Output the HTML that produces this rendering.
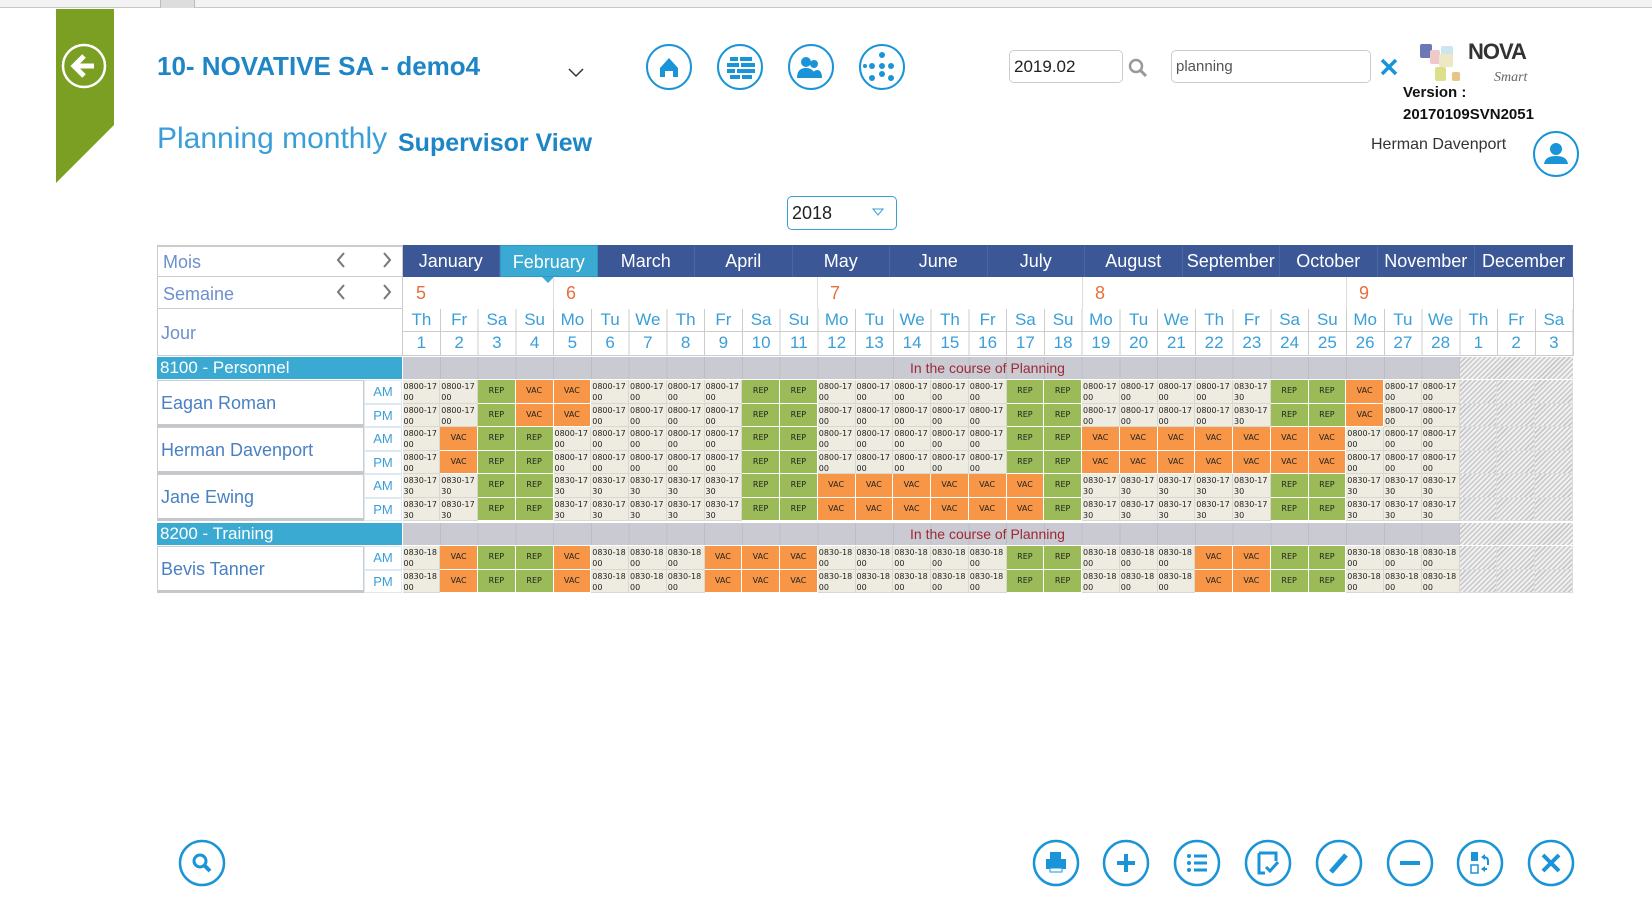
<!DOCTYPE html>
<html><head><meta charset="utf-8"><style>
*{box-sizing:border-box;margin:0;padding:0}
body{width:1652px;height:907px;background:#fff;position:relative;overflow:hidden;font-family:"Liberation Sans",sans-serif}
.a{position:absolute}
.row{position:absolute;left:402.5px;display:flex;height:23.5px}
.row i{font-style:normal;width:37.76px;flex:none;height:100%;border-right:1px solid #fff;border-bottom:1px solid #fff;font-family:"DejaVu Sans",sans-serif;font-size:8px;color:#222}
.t{background:#eeece1;line-height:11px;padding:1px 0 0 1px;white-space:nowrap;overflow:hidden;border-color:#d8d8d0!important}
.r{background:#9bbb59;text-align:center;line-height:22px}
.v{background:#f79646;text-align:center;line-height:22px}
.h{background:repeating-linear-gradient(135deg,#c8c8c8 0 1.5px,#f0f0f0 1.5px 3.5px);border-color:#ddd!important}
.g{position:absolute;left:402.5px;top:357px;width:1058px;height:22px;background:#cacad2;background-image:repeating-linear-gradient(90deg,transparent 0 36.76px,#bdbdc5 36.76px 37.76px)}
.gh{position:absolute;left:1460px;width:113px;height:22px;background:repeating-linear-gradient(135deg,#c8c8c8 0 1.5px,#f0f0f0 1.5px 3.5px)}
.gl{position:absolute;left:157px;width:245px;height:22px;background:#3aaad2;color:#fff;font-size:17px;line-height:22px;padding-left:3px}
.gt{position:absolute;left:905px;width:165px;text-align:center;font-size:14px;color:#9e2a35;line-height:22px}
.nm{position:absolute;left:157px;width:207px;height:47px;border:1px solid #ccc;border-bottom:3px solid #c4c8cc;color:#4a80c4;font-size:18px;line-height:44px;padding-left:3px;background:#fff}
.ap{position:absolute;left:364px;width:38px;height:23.5px;border:1px solid #dde8f0;color:#3a9fd8;font-size:13px;text-align:center;line-height:22px}
.ci{position:absolute;border:2.5px solid #1a94d8;border-radius:50%}
.mo{position:absolute;top:245px;height:32px;width:97.5px;background:#3b5796;color:#fff;font-size:18px;text-align:center;line-height:32px;border-right:1px solid #4a66a4}
.dw{width:37.76px;text-align:center;color:#3a9fd8;font-size:17px}
</style></head><body>
<div class="a" style="left:0;top:0;width:1652px;height:8px;background:#f2f2f2;border-bottom:1px solid #c8c8c8"></div>
<div class="a" style="left:160px;top:0;width:35px;height:8px;background:#ddd;border-left:1px solid #bbb;border-right:1px solid #bbb"></div>
<svg class="a" style="left:56px;top:9px" width="58" height="175"><polygon points="0,0 58,0 58,116 0,174" fill="#7a9f22"/><circle cx="28" cy="57" r="21" fill="none" stroke="#fff" stroke-width="2.5"/><path d="M38 57H20M28 47L18 57L28 67" fill="none" stroke="#fff" stroke-width="5"/></svg>
<div class="a" style="left:157px;top:51px;font-size:26px;font-weight:bold;color:#1e86c6">10- NOVATIVE SA - demo4</div>
<svg class="a" style="left:568px;top:68px" width="16" height="10"><path d="M1 1L8 8L15 1" fill="none" stroke="#333" stroke-width="1.5"/></svg>
<div class="ci" style="left:646px;top:44px;width:46px;height:46px"></div>
<div class="ci" style="left:717px;top:44px;width:46px;height:46px"></div>
<div class="ci" style="left:788px;top:44px;width:46px;height:46px"></div>
<div class="ci" style="left:859px;top:44px;width:46px;height:46px"></div>
<svg class="a" style="left:646px;top:44px" width="260" height="46"><path d="M14 24L23 14L32 24V33H27V27H19V33H14Z" fill="#1a94d8"/>
<g fill="#1a94d8"><rect x="84" y="13" width="8" height="4"/><rect x="94" y="13" width="12" height="4"/><rect x="81" y="19" width="12" height="4"/><rect x="95" y="19" width="14" height="4"/><rect x="81" y="25" width="8" height="4"/><rect x="91" y="25" width="18" height="4"/><rect x="84" y="31" width="10" height="4"/><rect x="96" y="31" width="10" height="4"/></g>
<g fill="#1a94d8"><circle cx="160" cy="18" r="5"/><path d="M151 34Q151 24 160 24Q169 24 169 34Z"/><circle cx="168" cy="20" r="4"/><path d="M165 34Q166 26 172 26Q176 27 176 34Z"/></g>
<g fill="#1a94d8"><circle cx="236" cy="11" r="3"/><circle cx="226" cy="22" r="3"/><circle cx="236" cy="22" r="3"/><circle cx="245" cy="22" r="3"/><circle cx="236" cy="30" r="3"/><circle cx="226" cy="34" r="3"/><circle cx="245" cy="34" r="3"/><circle cx="219" cy="22" r="2"/></g></svg>
<div class="a" style="left:157px;top:122px;font-size:30px;color:#3a9fd8">Planning monthly</div>
<div class="a" style="left:398px;top:129px;font-size:25px;font-weight:bold;color:#1e86c6">Supervisor View</div>
<div class="a" style="left:1009px;top:50px;width:114px;height:33px;border:1px solid #ccc;border-radius:5px;font-size:17px;line-height:31px;padding-left:4px;color:#222">2019.02</div>
<svg class="a" style="left:1128px;top:58px" width="20" height="20"><circle cx="8" cy="8" r="6" fill="none" stroke="#999" stroke-width="2.5"/><path d="M12 12L18 18" stroke="#999" stroke-width="3"/></svg>
<div class="a" style="left:1171px;top:50px;width:200px;height:33px;border:1px solid #ccc;border-radius:5px;font-size:15px;line-height:31px;padding-left:4px;color:#555">planning</div>
<svg class="a" style="left:1380px;top:58px" width="18" height="18"><path d="M2 2L16 16M16 2L2 16" stroke="#1a94d8" stroke-width="3.5"/></svg>
<svg class="a" style="left:1420px;top:42px" width="60" height="50"><rect x="0" y="2" width="12" height="14" rx="2" fill="#6a78b8"/><rect x="10" y="8" width="10" height="14" rx="2" fill="#efc8cc"/><rect x="21" y="4" width="12" height="10" rx="2" fill="#cde6ee"/><rect x="19" y="12" width="14" height="13" rx="2" fill="#eee8c4"/><rect x="15" y="25" width="11" height="14" rx="2" fill="#dce08a"/><rect x="32" y="30" width="8" height="9" rx="2" fill="#e8c488"/></svg>
<div class="a" style="left:1468px;top:39px;font-size:22px;font-weight:bold;color:#333;letter-spacing:-1px">NOVA</div>
<div class="a" style="left:1494px;top:70px;font-size:14px;font-style:italic;color:#666;font-family:'Liberation Serif',serif">Smart</div>
<div class="a" style="left:1403px;top:84px;font-size:15px;font-weight:bold;color:#111">Version :</div>
<div class="a" style="left:1403px;top:106px;font-size:15px;font-weight:bold;color:#111">20170109SVN2051</div>
<div class="a" style="left:1371px;top:136px;font-size:16px;color:#333">Herman Davenport</div>
<div class="ci" style="left:1533px;top:131px;width:46px;height:46px"></div>
<svg class="a" style="left:1533px;top:131px" width="46" height="46"><circle cx="23" cy="18" r="6" fill="#1a94d8"/><path d="M11 33Q12 25 23 25Q34 25 35 33Z" fill="#1a94d8"/></svg>
<div class="a" style="left:787px;top:196px;width:110px;height:34px;border:1.5px solid #3aa0d8;border-radius:5px;font-size:18px;line-height:32px;padding-left:4px;color:#222">2018</div>
<svg class="a" style="left:872px;top:208px" width="12" height="8"><path d="M1 1H11L6 7Z" fill="none" stroke="#3aa0d8"/></svg>
<div class="a" style="left:157px;top:245px;width:246px;height:111px;border:1px solid #ccc;border-top:2px solid #ccc"></div>
<div class="a" style="left:157px;top:276px;width:246px;height:1px;background:#ccc"></div>
<div class="a" style="left:157px;top:308px;width:246px;height:1px;background:#ccc"></div>
<div class="a" style="left:163px;top:252px;font-size:18px;color:#6c8fd0">Mois</div>
<div class="a" style="left:163px;top:284px;font-size:18px;color:#6c8fd0">Semaine</div>
<div class="a" style="left:161px;top:323px;font-size:18px;color:#6c8fd0">Jour</div>
<svg class="a" style="left:334px;top:250px" width="60" height="56"><g fill="none" stroke="#777" stroke-width="2"><path d="M10 3L4 10L10 17M50 3L56 10L50 17M10 35L4 42L10 49M50 35L56 42L50 49"/></g></svg>
<div class="mo" style="left:402.5px">January</div><div class="mo" style="left:500px;background:#3aaad2;border:1px solid #2a98c8">February</div><div class="mo" style="left:597.5px">March</div><div class="mo" style="left:695px">April</div><div class="mo" style="left:792.5px">May</div><div class="mo" style="left:890px">June</div><div class="mo" style="left:987.5px">July</div><div class="mo" style="left:1085px">August</div><div class="mo" style="left:1182.5px">September</div><div class="mo" style="left:1280px">October</div><div class="mo" style="left:1377.5px">November</div><div class="mo" style="left:1475px;width:98px">December</div>
<svg class="a" style="left:542px;top:277px" width="12" height="6"><path d="M0 0H12L6 6Z" fill="#3aaad2"/></svg>
<div class="a" style="left:402.5px;top:277px;width:1171px;height:79px;border-right:1px solid #ccc;border-bottom:1px solid #ccc;background-image:repeating-linear-gradient(90deg,transparent 0 36.76px,#ccc 36.76px 37.76px);background-position:0 32px;background-size:100% 47px;background-repeat:no-repeat"></div>
<div class="a" style="left:402.5px;top:331px;width:1171px;height:1px;background:#ccc"></div>
<div class="a" style="left:553px;top:277px;width:1px;height:32px;background:#ddd"></div>
<div class="a" style="left:817px;top:277px;width:1px;height:32px;background:#ddd"></div>
<div class="a" style="left:1082px;top:277px;width:1px;height:32px;background:#ddd"></div>
<div class="a" style="left:1346px;top:277px;width:1px;height:32px;background:#ddd"></div>
<div class="a" style="top:283px;left:416px;font-size:18px;color:#e8703a">5</div>
<div class="a" style="top:283px;left:566px;font-size:18px;color:#e8703a">6</div>
<div class="a" style="top:283px;left:830px;font-size:18px;color:#e8703a">7</div>
<div class="a" style="top:283px;left:1095px;font-size:18px;color:#e8703a">8</div>
<div class="a" style="top:283px;left:1359px;font-size:18px;color:#e8703a">9</div>
<div class="a" style="left:402.5px;top:310px;display:flex">
<span class="dw">Th</span><span class="dw">Fr</span><span class="dw">Sa</span><span class="dw">Su</span><span class="dw">Mo</span><span class="dw">Tu</span><span class="dw">We</span><span class="dw">Th</span><span class="dw">Fr</span><span class="dw">Sa</span><span class="dw">Su</span><span class="dw">Mo</span><span class="dw">Tu</span><span class="dw">We</span><span class="dw">Th</span><span class="dw">Fr</span><span class="dw">Sa</span><span class="dw">Su</span><span class="dw">Mo</span><span class="dw">Tu</span><span class="dw">We</span><span class="dw">Th</span><span class="dw">Fr</span><span class="dw">Sa</span><span class="dw">Su</span><span class="dw">Mo</span><span class="dw">Tu</span><span class="dw">We</span><span class="dw">Th</span><span class="dw">Fr</span><span class="dw">Sa</span></div>
<div class="a" style="left:402.5px;top:333px;display:flex">
<span class="dw">1</span><span class="dw">2</span><span class="dw">3</span><span class="dw">4</span><span class="dw">5</span><span class="dw">6</span><span class="dw">7</span><span class="dw">8</span><span class="dw">9</span><span class="dw">10</span><span class="dw">11</span><span class="dw">12</span><span class="dw">13</span><span class="dw">14</span><span class="dw">15</span><span class="dw">16</span><span class="dw">17</span><span class="dw">18</span><span class="dw">19</span><span class="dw">20</span><span class="dw">21</span><span class="dw">22</span><span class="dw">23</span><span class="dw">24</span><span class="dw">25</span><span class="dw">26</span><span class="dw">27</span><span class="dw">28</span><span class="dw">1</span><span class="dw">2</span><span class="dw">3</span></div>
<div class="gl" style="top:357px">8100 - Personnel</div>
<div class="g"></div><div class="gh" style="top:357px"></div>
<div class="gt" style="top:357px">In the course of Planning</div>
<div class="nm" style="top:380px">Eagan Roman</div>
<div class="ap" style="top:380px">AM</div><div class="ap" style="top:403.5px">PM</div>
<div class="nm" style="top:427px">Herman Davenport</div>
<div class="ap" style="top:427px">AM</div><div class="ap" style="top:450.5px">PM</div>
<div class="nm" style="top:474px">Jane Ewing</div>
<div class="ap" style="top:474px">AM</div><div class="ap" style="top:497.5px">PM</div>
<div class="row" style="top:380px"><i class=t>0800-17<br>00</i><i class=t>0800-17<br>00</i><i class=r>REP</i><i class=v>VAC</i><i class=v>VAC</i><i class=t>0800-17<br>00</i><i class=t>0800-17<br>00</i><i class=t>0800-17<br>00</i><i class=t>0800-17<br>00</i><i class=r>REP</i><i class=r>REP</i><i class=t>0800-17<br>00</i><i class=t>0800-17<br>00</i><i class=t>0800-17<br>00</i><i class=t>0800-17<br>00</i><i class=t>0800-17<br>00</i><i class=r>REP</i><i class=r>REP</i><i class=t>0800-17<br>00</i><i class=t>0800-17<br>00</i><i class=t>0800-17<br>00</i><i class=t>0800-17<br>00</i><i class=t>0830-17<br>30</i><i class=r>REP</i><i class=r>REP</i><i class=v>VAC</i><i class=t>0800-17<br>00</i><i class=t>0800-17<br>00</i><i class=h></i><i class=h></i><i class=h></i></div>
<div class="row" style="top:403.5px"><i class=t>0800-17<br>00</i><i class=t>0800-17<br>00</i><i class=r>REP</i><i class=v>VAC</i><i class=v>VAC</i><i class=t>0800-17<br>00</i><i class=t>0800-17<br>00</i><i class=t>0800-17<br>00</i><i class=t>0800-17<br>00</i><i class=r>REP</i><i class=r>REP</i><i class=t>0800-17<br>00</i><i class=t>0800-17<br>00</i><i class=t>0800-17<br>00</i><i class=t>0800-17<br>00</i><i class=t>0800-17<br>00</i><i class=r>REP</i><i class=r>REP</i><i class=t>0800-17<br>00</i><i class=t>0800-17<br>00</i><i class=t>0800-17<br>00</i><i class=t>0800-17<br>00</i><i class=t>0830-17<br>30</i><i class=r>REP</i><i class=r>REP</i><i class=v>VAC</i><i class=t>0800-17<br>00</i><i class=t>0800-17<br>00</i><i class=h></i><i class=h></i><i class=h></i></div>
<div class="row" style="top:427px"><i class=t>0800-17<br>00</i><i class=v>VAC</i><i class=r>REP</i><i class=r>REP</i><i class=t>0800-17<br>00</i><i class=t>0800-17<br>00</i><i class=t>0800-17<br>00</i><i class=t>0800-17<br>00</i><i class=t>0800-17<br>00</i><i class=r>REP</i><i class=r>REP</i><i class=t>0800-17<br>00</i><i class=t>0800-17<br>00</i><i class=t>0800-17<br>00</i><i class=t>0800-17<br>00</i><i class=t>0800-17<br>00</i><i class=r>REP</i><i class=r>REP</i><i class=v>VAC</i><i class=v>VAC</i><i class=v>VAC</i><i class=v>VAC</i><i class=v>VAC</i><i class=v>VAC</i><i class=v>VAC</i><i class=t>0800-17<br>00</i><i class=t>0800-17<br>00</i><i class=t>0800-17<br>00</i><i class=h></i><i class=h></i><i class=h></i></div>
<div class="row" style="top:450.5px"><i class=t>0800-17<br>00</i><i class=v>VAC</i><i class=r>REP</i><i class=r>REP</i><i class=t>0800-17<br>00</i><i class=t>0800-17<br>00</i><i class=t>0800-17<br>00</i><i class=t>0800-17<br>00</i><i class=t>0800-17<br>00</i><i class=r>REP</i><i class=r>REP</i><i class=t>0800-17<br>00</i><i class=t>0800-17<br>00</i><i class=t>0800-17<br>00</i><i class=t>0800-17<br>00</i><i class=t>0800-17<br>00</i><i class=r>REP</i><i class=r>REP</i><i class=v>VAC</i><i class=v>VAC</i><i class=v>VAC</i><i class=v>VAC</i><i class=v>VAC</i><i class=v>VAC</i><i class=v>VAC</i><i class=t>0800-17<br>00</i><i class=t>0800-17<br>00</i><i class=t>0800-17<br>00</i><i class=h></i><i class=h></i><i class=h></i></div>
<div class="row" style="top:474px"><i class=t>0830-17<br>30</i><i class=t>0830-17<br>30</i><i class=r>REP</i><i class=r>REP</i><i class=t>0830-17<br>30</i><i class=t>0830-17<br>30</i><i class=t>0830-17<br>30</i><i class=t>0830-17<br>30</i><i class=t>0830-17<br>30</i><i class=r>REP</i><i class=r>REP</i><i class=v>VAC</i><i class=v>VAC</i><i class=v>VAC</i><i class=v>VAC</i><i class=v>VAC</i><i class=v>VAC</i><i class=r>REP</i><i class=t>0830-17<br>30</i><i class=t>0830-17<br>30</i><i class=t>0830-17<br>30</i><i class=t>0830-17<br>30</i><i class=t>0830-17<br>30</i><i class=r>REP</i><i class=r>REP</i><i class=t>0830-17<br>30</i><i class=t>0830-17<br>30</i><i class=t>0830-17<br>30</i><i class=h></i><i class=h></i><i class=h></i></div>
<div class="row" style="top:497.5px"><i class=t>0830-17<br>30</i><i class=t>0830-17<br>30</i><i class=r>REP</i><i class=r>REP</i><i class=t>0830-17<br>30</i><i class=t>0830-17<br>30</i><i class=t>0830-17<br>30</i><i class=t>0830-17<br>30</i><i class=t>0830-17<br>30</i><i class=r>REP</i><i class=r>REP</i><i class=v>VAC</i><i class=v>VAC</i><i class=v>VAC</i><i class=v>VAC</i><i class=v>VAC</i><i class=v>VAC</i><i class=r>REP</i><i class=t>0830-17<br>30</i><i class=t>0830-17<br>30</i><i class=t>0830-17<br>30</i><i class=t>0830-17<br>30</i><i class=t>0830-17<br>30</i><i class=r>REP</i><i class=r>REP</i><i class=t>0830-17<br>30</i><i class=t>0830-17<br>30</i><i class=t>0830-17<br>30</i><i class=h></i><i class=h></i><i class=h></i></div>
<div class="gl" style="top:523px">8200 - Training</div>
<div class="g" style="top:523px"></div><div class="gh" style="top:523px"></div>
<div class="gt" style="top:523px">In the course of Planning</div>
<div class="nm" style="top:546px">Bevis Tanner</div>
<div class="ap" style="top:546px">AM</div><div class="ap" style="top:569.5px">PM</div>
<div class="row" style="top:546px"><i class=t>0830-18<br>00</i><i class=v>VAC</i><i class=r>REP</i><i class=r>REP</i><i class=v>VAC</i><i class=t>0830-18<br>00</i><i class=t>0830-18<br>00</i><i class=t>0830-18<br>00</i><i class=v>VAC</i><i class=v>VAC</i><i class=v>VAC</i><i class=t>0830-18<br>00</i><i class=t>0830-18<br>00</i><i class=t>0830-18<br>00</i><i class=t>0830-18<br>00</i><i class=t>0830-18<br>00</i><i class=r>REP</i><i class=r>REP</i><i class=t>0830-18<br>00</i><i class=t>0830-18<br>00</i><i class=t>0830-18<br>00</i><i class=v>VAC</i><i class=v>VAC</i><i class=r>REP</i><i class=r>REP</i><i class=t>0830-18<br>00</i><i class=t>0830-18<br>00</i><i class=t>0830-18<br>00</i><i class=h></i><i class=h></i><i class=h></i></div>
<div class="row" style="top:569.5px"><i class=t>0830-18<br>00</i><i class=v>VAC</i><i class=r>REP</i><i class=r>REP</i><i class=v>VAC</i><i class=t>0830-18<br>00</i><i class=t>0830-18<br>00</i><i class=t>0830-18<br>00</i><i class=v>VAC</i><i class=v>VAC</i><i class=v>VAC</i><i class=t>0830-18<br>00</i><i class=t>0830-18<br>00</i><i class=t>0830-18<br>00</i><i class=t>0830-18<br>00</i><i class=t>0830-18<br>00</i><i class=r>REP</i><i class=r>REP</i><i class=t>0830-18<br>00</i><i class=t>0830-18<br>00</i><i class=t>0830-18<br>00</i><i class=v>VAC</i><i class=v>VAC</i><i class=r>REP</i><i class=r>REP</i><i class=t>0830-18<br>00</i><i class=t>0830-18<br>00</i><i class=t>0830-18<br>00</i><i class=h></i><i class=h></i><i class=h></i></div>
<svg class="a" style="left:0;top:835px" width="1652" height="60">
<g fill="none" stroke="#1a94d8" stroke-width="2.5">
<circle cx="202" cy="28" r="22"/>
<circle cx="200" cy="26" r="6" stroke-width="3"/><path d="M204 30L210 36" stroke-width="4"/>
</g>
<g transform="translate(1056,28)"><circle r="22" fill="none" stroke="#1a94d8" stroke-width="2.5"/><rect x="-10" y="-4" width="20" height="10" fill="#1a94d8"/><rect x="-6" y="-11" width="11" height="7" fill="#1a94d8"/><rect x="-6" y="5" width="12" height="4" fill="#fff" stroke="#1a94d8"/></g>
<g transform="translate(1126,28)"><circle r="22" fill="none" stroke="#1a94d8" stroke-width="2.5"/><path d="M-9 0H9M0 -9V9" stroke="#1a94d8" stroke-width="4"/></g>
<g transform="translate(1197,28)"><circle r="22" fill="none" stroke="#1a94d8" stroke-width="2.5"/><g fill="#1a94d8"><circle cx="-8" cy="-7" r="2"/><circle cx="-8" cy="0" r="2"/><circle cx="-8" cy="7" r="2"/></g><path d="M-3 -7H10M-3 0H10M-3 7H10" stroke="#1a94d8" stroke-width="3"/></g>
<g transform="translate(1268,28)"><circle r="22" fill="none" stroke="#1a94d8" stroke-width="2.5"/><path d="M-9 -10H8V-2M-9 -10V10H-3M-2 4L2 8L10 -1" fill="none" stroke="#1a94d8" stroke-width="3"/></g>
<g transform="translate(1339,28)"><circle r="22" fill="none" stroke="#1a94d8" stroke-width="2.5"/><path d="M-8 9L7 -8" stroke="#1a94d8" stroke-width="5"/></g>
<g transform="translate(1410,28)"><circle r="22" fill="none" stroke="#1a94d8" stroke-width="2.5"/><path d="M-10 0H10" stroke="#1a94d8" stroke-width="4"/></g>
<g transform="translate(1480,28)"><circle r="22" fill="none" stroke="#1a94d8" stroke-width="2.5"/><rect x="-9" y="-11" width="7" height="9" fill="#1a94d8"/><rect x="-9" y="2" width="7" height="8" fill="none" stroke="#1a94d8" stroke-width="1.5"/><path d="M3 -6Q8 -6 8 -2V2M7 6H2" fill="none" stroke="#1a94d8" stroke-width="2"/><path d="M1 -6L5 -9V-3Z M1 6L5 3V9Z" fill="#1a94d8"/></g>
<g transform="translate(1551,28)"><circle r="22" fill="none" stroke="#1a94d8" stroke-width="2.5"/><path d="M-8 -8L8 8M8 -8L-8 8" stroke="#1a94d8" stroke-width="4"/></g>
</svg>
</body></html>
